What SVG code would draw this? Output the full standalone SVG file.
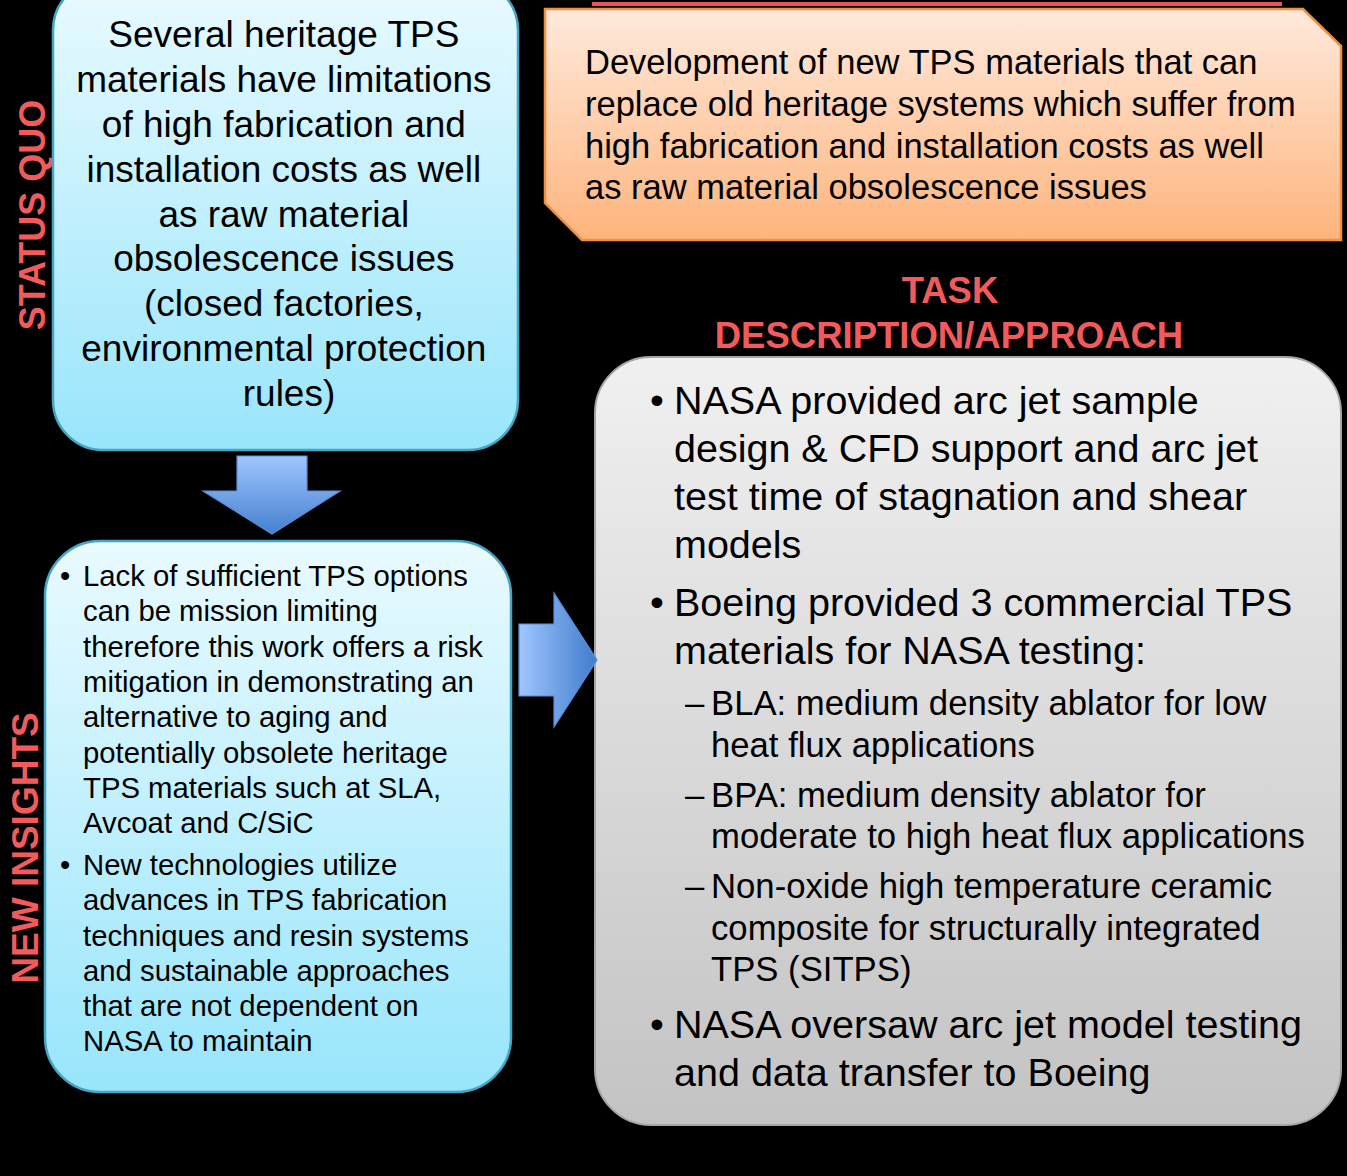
<svg xmlns="http://www.w3.org/2000/svg" width="1347" height="1176" viewBox="0 0 1347 1176">
  <defs>
    <linearGradient id="gBlue" x1="0" y1="0" x2="0" y2="1">
      <stop offset="0" stop-color="#e9faff"/>
      <stop offset="1" stop-color="#98e5fb"/>
    </linearGradient>
    <linearGradient id="gOrange" x1="0" y1="0" x2="0" y2="1">
      <stop offset="0" stop-color="#ffe9dc"/>
      <stop offset="1" stop-color="#fdb47c"/>
    </linearGradient>
    <linearGradient id="gGray" x1="0" y1="0" x2="0" y2="1">
      <stop offset="0" stop-color="#f0f0f0"/>
      <stop offset="1" stop-color="#c3c3c3"/>
    </linearGradient>
    <linearGradient id="gArrowDown" x1="0" y1="0" x2="0" y2="1">
      <stop offset="0" stop-color="#a0c6ff"/>
      <stop offset="1" stop-color="#4580cf"/>
    </linearGradient>
    <linearGradient id="gArrowRight" x1="0" y1="0" x2="1" y2="0">
      <stop offset="0" stop-color="#a0c6ff"/>
      <stop offset="1" stop-color="#3f7ccd"/>
    </linearGradient>
  </defs>
  <style>
    .blue { fill: url(#gBlue); stroke: #45a5c3; stroke-width: 2.5; }
    .orange { fill: url(#gOrange); stroke: #f0913f; stroke-width: 2.5; }
    .gray { fill: url(#gGray); stroke: #a5a5a5; stroke-width: 2; }
    .arrow { stroke: #5a8ed4; stroke-width: 1.2; }
    .t { font-family: "Liberation Sans", Arial, sans-serif; fill: #000; }
    .label { font-family: "Liberation Sans", Arial, sans-serif; font-weight: bold; fill: #f15b5b; }
  </style>

  <rect x="0" y="0" width="1347" height="1176" fill="#000"/>
  <rect x="592" y="2" width="690" height="4" fill="#e8565c"/>

  <!-- side labels -->
  <text class="label" font-size="36" text-anchor="middle" transform="translate(45,215) rotate(-90)">STATUS QUO</text>
  <text class="label" font-size="37" text-anchor="middle" transform="translate(38,848) rotate(-90)">NEW INSIGHTS</text>
  <text class="label" font-size="36.5" text-anchor="middle" x="950" y="303">TASK</text>
  <text class="label" font-size="36.5" text-anchor="middle" x="949" y="348">DESCRIPTION/APPROACH</text>

  <!-- status quo -->
  <g id="status-quo">
    <rect class="blue" x="53" y="-20" width="465" height="470" rx="50" ry="50"/>
    <text class="t" font-size="37" text-anchor="middle">
      <tspan x="289" y="47">Several heritage TPS</tspan>
      <tspan x="289" y="92">materials have limitations</tspan>
      <tspan x="289" y="137">of high fabrication and</tspan>
      <tspan x="289" y="182">installation costs as well</tspan>
      <tspan x="289" y="227">as raw material</tspan>
      <tspan x="289" y="271">obsolescence issues</tspan>
      <tspan x="289" y="316">(closed factories,</tspan>
      <tspan x="289" y="361">environmental protection</tspan>
      <tspan x="289" y="406">rules)</tspan>
    </text>
  </g>

  <!-- goal -->
  <g id="goal">
    <polygon class="orange" points="545,9 1303,9 1341,46 1341,240 582,240 545,203"/>
    <text class="t" font-size="34.5">
      <tspan x="585" y="74">Development of new TPS materials that can</tspan>
      <tspan x="585" y="116">replace old heritage systems which suffer from</tspan>
      <tspan x="585" y="158">high fabrication and installation costs as well</tspan>
      <tspan x="585" y="199">as raw material obsolescence issues</tspan>
    </text>
  </g>

  <!-- new insights -->
  <g id="new-insights">
    <rect class="blue" x="45" y="541" width="466" height="551" rx="55" ry="55"/>
    <text class="t" font-size="29.3">
      <tspan x="60" y="586">•</tspan>
      <tspan x="83" y="586">Lack of sufficient TPS options</tspan>
      <tspan x="83" y="621">can be mission limiting</tspan>
      <tspan x="83" y="657">therefore this work offers a risk</tspan>
      <tspan x="83" y="692">mitigation in demonstrating an</tspan>
      <tspan x="83" y="727">alternative to aging and</tspan>
      <tspan x="83" y="763">potentially obsolete heritage</tspan>
      <tspan x="83" y="798">TPS materials such at SLA,</tspan>
      <tspan x="83" y="833">Avcoat and C/SiC</tspan>
      <tspan x="60" y="875">•</tspan>
      <tspan x="83" y="875">New technologies utilize</tspan>
      <tspan x="83" y="910">advances in TPS fabrication</tspan>
      <tspan x="83" y="946">techniques and resin systems</tspan>
      <tspan x="83" y="981">and sustainable approaches</tspan>
      <tspan x="83" y="1016">that are not dependent on</tspan>
      <tspan x="83" y="1051">NASA to maintain</tspan>
    </text>
  </g>

  <!-- task description -->
  <g id="task-description">
    <rect class="gray" x="595" y="357" width="746" height="768" rx="56" ry="56"/>
    <text class="t" font-size="39.5">
      <tspan x="650" y="414">•</tspan>
      <tspan x="674" y="414">NASA provided arc jet sample</tspan>
      <tspan x="674" y="462">design &amp; CFD support and arc jet</tspan>
      <tspan x="674" y="510">test time of stagnation and shear</tspan>
      <tspan x="674" y="558">models</tspan>
      <tspan x="650" y="616">•</tspan>
      <tspan x="674" y="616">Boeing provided 3 commercial TPS</tspan>
      <tspan x="674" y="664">materials for NASA testing:</tspan>
      <tspan x="650" y="1038">•</tspan>
      <tspan x="674" y="1038">NASA oversaw arc jet model testing</tspan>
      <tspan x="674" y="1086">and data transfer to Boeing</tspan>
    </text>
    <text class="t" font-size="34.7">
      <tspan x="685" y="715">–</tspan>
      <tspan x="711" y="715">BLA: medium density ablator for low</tspan>
      <tspan x="711" y="757">heat flux applications</tspan>
      <tspan x="685" y="807">–</tspan>
      <tspan x="711" y="807">BPA: medium density ablator for</tspan>
      <tspan x="711" y="848">moderate to high heat flux applications</tspan>
      <tspan x="685" y="898">–</tspan>
      <tspan x="711" y="898">Non-oxide high temperature ceramic</tspan>
      <tspan x="711" y="940">composite for structurally integrated</tspan>
      <tspan x="711" y="981">TPS (SITPS)</tspan>
    </text>
  </g>

  <!-- connectors -->
  <g id="connectors">
    <polygon class="arrow" fill="url(#gArrowDown)" points="237,456 307,456 307,491 340,491 272,534 203,491 237,491"/>
    <polygon class="arrow" fill="url(#gArrowRight)" points="519,624 554,624 554,593 597,660 554,727 554,696 519,696"/>
  </g>
</svg>
